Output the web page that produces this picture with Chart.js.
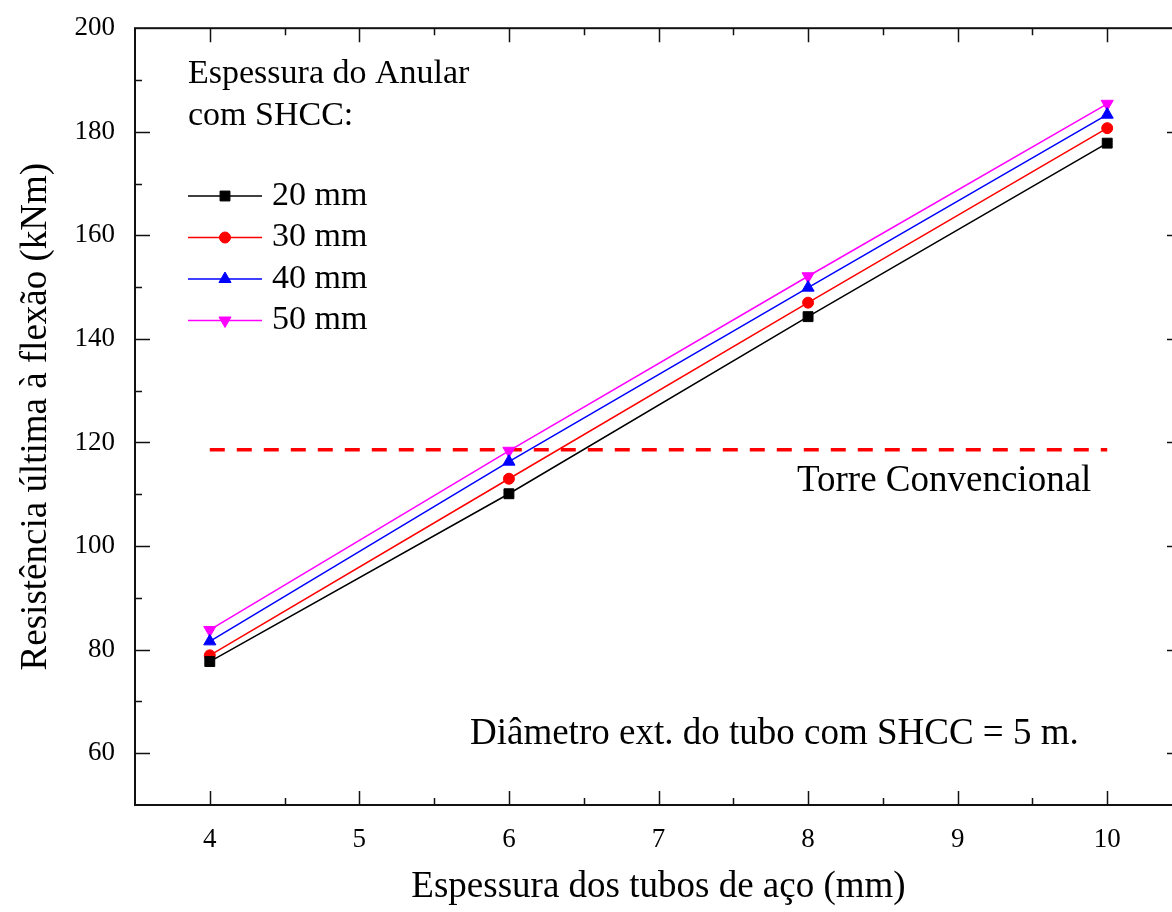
<!DOCTYPE html>
<html>
<head>
<meta charset="utf-8">
<script src="https://cdn.jsdelivr.net/npm/chart.js@4.4.0/dist/chart.umd.min.js"></script>
<style>
  html, body { margin: 0; padding: 0; background: #fff; overflow: hidden; }
</style>
</head>
<body>
<canvas id="chart" width="1190" height="912"></canvas>
<script>
// data
const thickness = [4, 6, 8, 10];
const s20 = [77.7, 110.1, 144.3, 177.8];
const s30 = [78.9, 113.0, 147.0, 180.7];
const s40 = [81.6, 116.3, 149.9, 183.3];
const s50 = [83.8, 118.4, 152.1, 185.4];
const conventional = 118.6;
const seriesLabels = ['20 mm', '30 mm', '40 mm', '50 mm'];
const legendTitle = ['Espessura do Anular', 'com SHCC:'];
const xTicks = [4, 5, 6, 7, 8, 9, 10];
const yTicks = [60, 80, 100, 120, 140, 160, 180, 200];

const SERIF = '"Liberation Serif", "Times New Roman", serif';

const pts = (vals) => vals.map((v, i) => ({ x: thickness[i], y: v }));

const styles = [
  { color: '#000000', style: 'rect', radius: 7, rotation: 0 },
  { color: '#ff0000', style: 'circle', radius: 5.5, rotation: 0 },
  { color: '#0000ff', style: 'triangle', radius: 7, rotation: 0 },
  { color: '#ff00ff', style: 'triangle', radius: 7, rotation: 180 },
];

const series = [s20, s30, s40, s50].map((vals, i) => ({
  label: seriesLabels[i],
  data: pts(vals),
  borderColor: styles[i].color,
  backgroundColor: styles[i].color,
  borderWidth: 1.5,
  pointStyle: styles[i].style,
  pointRotation: styles[i].rotation,
  pointRadius: styles[i].radius,
  pointBorderWidth: 1,
  tension: 0,
}));

series.push({
  label: 'Torre Convencional',
  data: [{ x: thickness[0], y: conventional }, { x: thickness[thickness.length - 1], y: conventional }],
  borderColor: '#ff0000',
  borderWidth: 3.5,
  borderDash: [15, 12],
  pointRadius: 0,
});

function drawMarker(ctx, st, x, y) {
  ctx.save();
  ctx.fillStyle = st.color;
  ctx.strokeStyle = st.color;
  ctx.lineWidth = 1;
  ctx.translate(x, y);
  ctx.rotate(st.rotation * Math.PI / 180);
  ctx.beginPath();
  const r = st.radius;
  if (st.style === 'rect') {
    const h = r * Math.SQRT1_2;
    ctx.rect(-h, -h, 2 * h, 2 * h);
  } else if (st.style === 'circle') {
    ctx.arc(0, 0, r, 0, Math.PI * 2);
  } else {
    const a = 2 * Math.PI / 3;
    ctx.moveTo(0, -r);
    ctx.lineTo(r * Math.sin(a), -r * Math.cos(a));
    ctx.lineTo(r * Math.sin(2 * a), -r * Math.cos(2 * a));
    ctx.closePath();
  }
  ctx.fill();
  ctx.stroke();
  ctx.restore();
}

const decor = {
  id: 'decor',
  afterDraw(chart) {
    const { ctx, chartArea: a, scales: { x, y } } = chart;
    ctx.save();
    // frame
    ctx.strokeStyle = '#111';
    ctx.lineWidth = 2;
    ctx.strokeRect(a.left, a.top, a.right - a.left, a.bottom - a.top);
    // inward ticks
    ctx.lineWidth = 1.5;
    ctx.beginPath();
    for (let v = 4; v <= 10.01; v += 0.5) {
      const px = Math.round(x.getPixelForValue(v)) + 0.5;
      const len = Number.isInteger(v) ? 14 : 7;
      ctx.moveTo(px, a.bottom); ctx.lineTo(px, a.bottom - len);
      ctx.moveTo(px, a.top); ctx.lineTo(px, a.top + len);
    }
    for (let v = 60; v <= 190; v += 10) {
      const py = Math.round(y.getPixelForValue(v)) + 0.5;
      const len = v % 20 === 0 ? 15 : 7;
      ctx.moveTo(a.left, py); ctx.lineTo(a.left + len, py);
      ctx.moveTo(a.right, py); ctx.lineTo(a.right - len, py);
    }
    ctx.stroke();

    // legend
    ctx.fillStyle = '#000';
    ctx.font = '34px ' + SERIF;
    ctx.textBaseline = 'middle';
    ctx.textAlign = 'left';
    ctx.fillText(legendTitle[0], 188, 74);
    ctx.fillText(legendTitle[1], 188, 116);
    chart.data.datasets.slice(0, 4).forEach((ds, i) => {
      const ly = 196 + i * 41.5;
      ctx.strokeStyle = ds.borderColor;
      ctx.lineWidth = 1.5;
      ctx.beginPath();
      ctx.moveTo(188, ly); ctx.lineTo(262, ly);
      ctx.stroke();
      drawMarker(ctx, styles[i], 225, ly);
      ctx.fillStyle = '#000';
      ctx.fillText(ds.label, 272, ly);
    });

    // annotations
    ctx.font = '37px ' + SERIF;
    ctx.fillText('Torre Convencional', 797, 481);
    ctx.fillText('Diâmetro ext. do tubo com SHCC = 5 m.', 470, 734);
    ctx.restore();
  }
};

new Chart(document.getElementById('chart'), {
  type: 'line',
  data: { datasets: series },
  options: {
    responsive: false,
    animation: false,
    layout: { padding: { top: 21, right: 5, left: 0, bottom: 0 } },
    plugins: { legend: { display: false }, tooltip: { enabled: false } },
    scales: {
      x: {
        type: 'linear',
        min: 3.5,
        max: 10.5,
        afterBuildTicks: (s) => { s.ticks = xTicks.map((v) => ({ value: v })); },
        afterFit: (s) => { s.height = 107; },
        grid: { display: false },
        border: { display: false },
        ticks: { color: '#000', padding: 11, font: { family: SERIF, size: 27 } },
        title: {
          display: true,
          text: 'Espessura dos tubos de aço (mm)',
          color: '#000',
          font: { family: SERIF, size: 37, lineHeight: 1 },
          padding: { top: 0, bottom: 6 },
        },
      },
      y: {
        min: 50,
        max: 200,
        afterBuildTicks: (s) => { s.ticks = yTicks.map((v) => ({ value: v })); },
        afterFit: (s) => { s.width = 135; },
        grid: { display: false },
        border: { display: false },
        ticks: { color: '#000', padding: 12, font: { family: SERIF, size: 27 } },
        title: {
          display: true,
          text: 'Resistência última à flexão (kNm)',
          color: '#000',
          font: { family: SERIF, size: 37, lineHeight: 1 },
          padding: { top: 18, bottom: 0 },
        },
      },
    },
  },
  plugins: [decor],
});
</script>
</body>
</html>
